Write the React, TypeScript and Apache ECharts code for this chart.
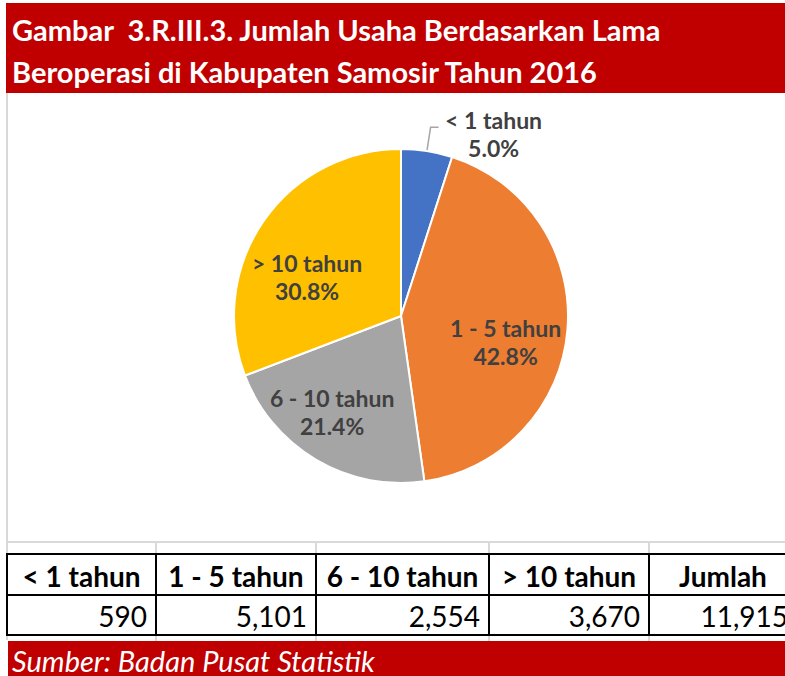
import React, { useEffect, useRef } from "react";
import * as echarts from "echarts";

const titleLines = [
  "Gambar  3.R.III.3. Jumlah Usaha Berdasarkan Lama",
  "Beroperasi di Kabupaten Samosir Tahun 2016",
];
const categories = ["< 1 tahun", "1 - 5 tahun", "6 - 10 tahun", "> 10 tahun"];
const values = [590, 5101, 2554, 3670];
const totalHeader = "Jumlah";
const sourceText = "Sumber: Badan Pusat Statistik";

const colors = ["#4472C4", "#ED7D31", "#A5A5A5", "#FFC000"];
const FONT = "Lato, 'Noto Sans', sans-serif";
const RED = "#C00000";
const GRID = "#D9D9D9";

export default function App() {
  const ref = useRef<HTMLDivElement>(null);

  useEffect(() => {
    document.body.style.margin = "0";
    if (!ref.current) return;
    const chart = echarts.init(ref.current, null, { renderer: "svg" });

    const total = values.reduce((a, b) => a + b, 0);
    const pct = (v: number) => ((v / total) * 100).toFixed(1) + "%";
    const fmt = (v: number) => v.toLocaleString("en-US");

    // label nudges (style only)
    const labelOffsets: number[][] = [[0, 0], [-3, 17], [-14, 3], [-5, 22]];

    const labelRich = {
      a: {
        fontFamily: FONT,
        fontWeight: "bold",
        fontSize: 23,
        color: "#404040",
        lineHeight: 28,
        width: 100,
        align: "center",
      },
    };

    const mainData = categories.map((name, i) => ({
      name,
      value: values[i],
      itemStyle: { color: colors[i] },
      label:
        i === 0
          ? {
              show: true,
              position: "outside",
              formatter: (p: any) => `{a|${p.name}}\n{a|${pct(p.value)}}`,
              rich: labelRich,
              padding: [14, 0, 0, 0],
            }
          : { show: false },
      labelLine:
        i === 0
          ? { show: true, length: 24, length2: 8, lineStyle: { color: "#A6A6A6", width: 1.5 } }
          : { show: false },
    }));

    const labelData = categories.map((name, i) => ({
      name,
      value: values[i],
      label:
        i === 0
          ? { show: false }
          : {
              show: true,
              position: "inside",
              offset: labelOffsets[i],
              formatter: (p: any) => `{a|${p.name}}\n{a|${pct(p.value)}}`,
              rich: labelRich,
            },
    }));

    // table geometry
    const colEdges = [7, 156, 316, 489, 649, 797];
    const tTop = 554, tMid = 595, tBot = 635;
    const headers = [...categories, totalHeader];
    const rowValues = [...values, total].map(fmt);

    const graphics: any[] = [];
    graphics.push({ type: "rect", shape: { x: 6, y: 3, width: 779, height: 90 }, style: { fill: RED }, silent: true });
    titleLines.forEach((t, i) => {
      graphics.push({
        type: "text",
        x: 12,
        y: 29 + i * 42,
        style: { text: t, fill: "#fff", font: `bold 29px ${FONT}`, textVerticalAlign: "middle", textAlign: "left" },
        silent: true,
      });
    });
    graphics.push({ type: "line", shape: { x1: 7, y1: 93, x2: 7, y2: 640 }, style: { stroke: GRID, lineWidth: 2 }, silent: true });
    graphics.push({ type: "line", shape: { x1: 7, y1: 542, x2: 785, y2: 542 }, style: { stroke: GRID, lineWidth: 2 }, silent: true });
    colEdges.slice(1, 5).forEach((x) => {
      graphics.push({ type: "line", shape: { x1: x, y1: 542, x2: x, y2: 554 }, style: { stroke: GRID, lineWidth: 2 }, silent: true });
      graphics.push({ type: "line", shape: { x1: x, y1: 635, x2: x, y2: 641 }, style: { stroke: GRID, lineWidth: 2 }, silent: true });
    });
    [tTop, tMid, tBot].forEach((y) => {
      graphics.push({ type: "line", shape: { x1: 6, y1: y, x2: 785, y2: y }, style: { stroke: "#000", lineWidth: 2 }, silent: true });
    });
    colEdges.slice(0, 5).forEach((x) => {
      graphics.push({ type: "line", shape: { x1: x, y1: tTop, x2: x, y2: tBot }, style: { stroke: "#000", lineWidth: 2 }, silent: true });
    });
    headers.forEach((h, i) => {
      graphics.push({
        type: "text",
        x: (colEdges[i] + colEdges[i + 1]) / 2,
        y: (tTop + tMid) / 2 + 1,
        style: { text: h, fill: "#000", font: `bold 28px ${FONT}`, textAlign: "center", textVerticalAlign: "middle" },
        silent: true,
      });
    });
    rowValues.forEach((v, i) => {
      graphics.push({
        type: "text",
        x: colEdges[i + 1] - 9,
        y: (tMid + tBot) / 2 + 1,
        style: { text: v, fill: "#000", font: `28px ${FONT}`, textAlign: "right", textVerticalAlign: "middle" },
        silent: true,
      });
    });
    graphics.push({ type: "rect", shape: { x: 8, y: 641, width: 777, height: 35 }, style: { fill: RED }, silent: true });
    graphics.push({
      type: "text",
      x: 12,
      y: 660,
      style: { text: sourceText, fill: "#fff", font: `italic 29px ${FONT}`, textAlign: "left", textVerticalAlign: "middle" },
      silent: true,
    });

    chart.setOption({
      animation: false,
      backgroundColor: "#fff",
      series: [
        {
          type: "pie",
          center: [401, 316],
          radius: [0, 167],
          startAngle: 90,
          clockwise: true,
          avoidLabelOverlap: false,
          silent: true,
          itemStyle: { borderColor: "#fff", borderWidth: 2 },
          emphasis: { disabled: true },
          data: mainData,
        },
        {
          type: "pie",
          center: [401, 316],
          radius: [0, 210],
          startAngle: 90,
          clockwise: true,
          silent: true,
          avoidLabelOverlap: false,
          itemStyle: { color: "rgba(0,0,0,0)", borderWidth: 0 },
          emphasis: { disabled: true },
          labelLine: { show: false },
          data: labelData,
          z: 3,
        },
      ],
      graphic: { elements: graphics },
    });

    return () => chart.dispose();
  }, []);

  return <div ref={ref} style={{ width: 785, height: 676 }} />;
}
